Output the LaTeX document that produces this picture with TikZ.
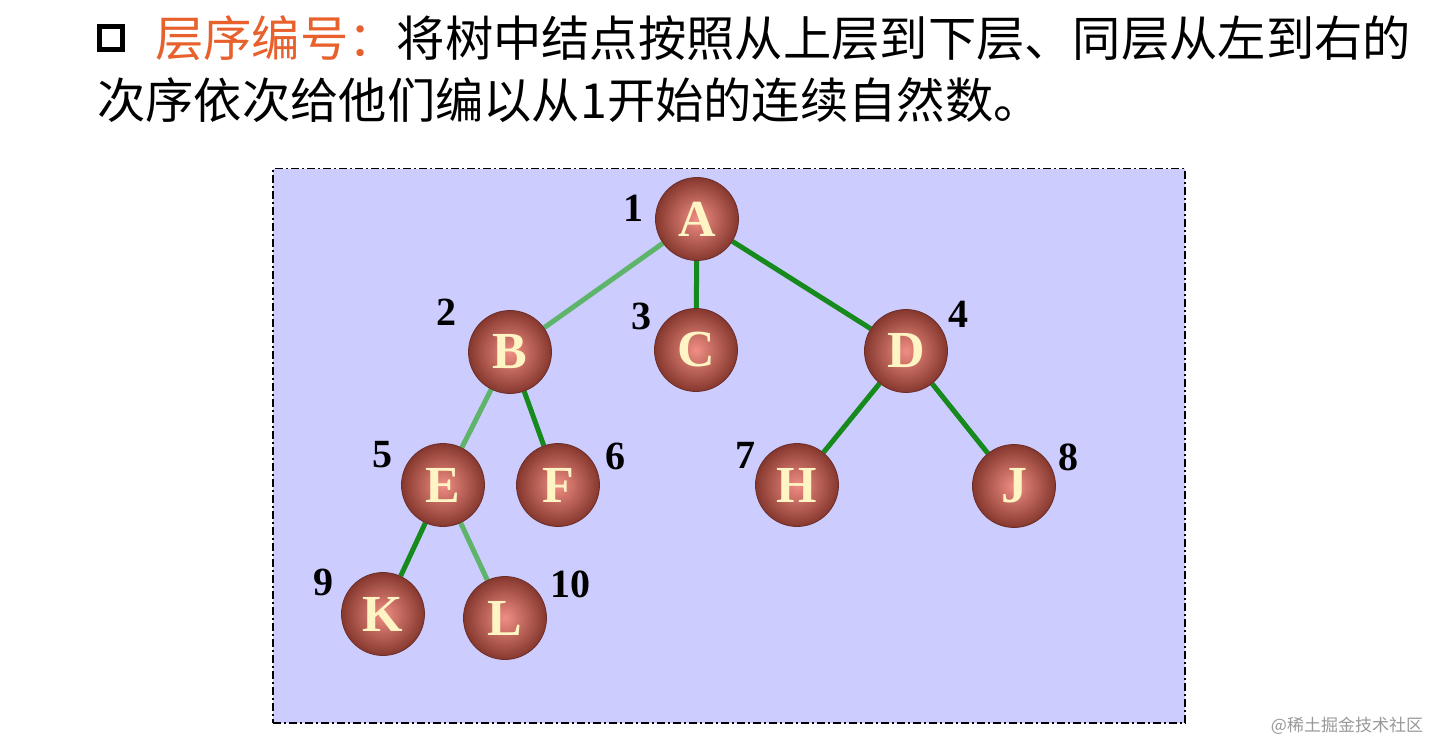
\documentclass[tikz,border=0pt]{standalone}
\usepackage{fontspec}
\setmainfont{Liberation Serif}
\newfontfamily\cjk{Noto Sans CJK SC}
\usetikzlibrary{backgrounds}
\pgfdeclarelayer{edgelayer}
\pgfsetlayers{background,edgelayer,main}
\definecolor{panel}{HTML}{CCCCFF}
\definecolor{titleorange}{HTML}{E8602C}
\definecolor{lightedge}{HTML}{5DB46A}
\definecolor{darkedge}{HTML}{178A1E}
\definecolor{ballin}{HTML}{F08E84}
\definecolor{ballout}{HTML}{86382E}
\definecolor{lettercol}{HTML}{FFF4C4}
\tikzset{
  treenode/.style={circle, minimum size=83pt, inner sep=0pt, draw=ballout!80!black, line width=0.8pt,
    shading=radial, inner color=ballin, outer color=ballout,
    font=\fontsize{52}{52}\selectfont\bfseries, text=lettercol},
  numlabel/.style={font=\fontsize{40}{40}\selectfont\bfseries, text=black, inner sep=0pt},
  lightline/.style={draw=lightedge, line width=5pt},
  darkline/.style={draw=darkedge, line width=5pt},
  cjktext/.style={font=\cjk\fontsize{48.3}{48.3}\selectfont, inner sep=0pt, anchor=west}
}
\begin{document}
\begin{tikzpicture}[x=1pt,y=-1pt]
\useasboundingbox (0,0) rectangle (1433,743);
\begin{pgfonlayer}{background}
\fill[white] (0,0) rectangle (1433,743);
\node[draw=black, fill=panel, line width=1.5pt, dash pattern=on 8pt off 3pt on 2pt off 3pt,
  minimum width=912pt, minimum height=554pt, inner sep=0pt, anchor=north west] (panel) at (272,168) {};
\end{pgfonlayer}
% title
\node[draw=black, line width=5pt, minimum size=23pt, inner sep=0pt] (bullet) at (111,38.5) {};
\node[cjktext] (line1) at (155,38) {\textcolor{titleorange}{层序编号：}将树中结点按照从上层到下层、同层从左到右的};
\node[cjktext] (line2) at (97,100) {次序依次给他们编以从1开始的连续自然数。};
% nodes
\node[treenode] (A) at (697,219) {A};
\node[treenode] (B) at (510,352) {B};
\node[treenode] (C) at (696,350) {C};
\node[treenode] (D) at (906,351) {D};
\node[treenode] (E) at (443,485) {E};
\node[treenode] (F) at (558,485) {F};
\node[treenode] (H) at (797,485) {H};
\node[treenode] (J) at (1014,486) {J};
\node[treenode] (K) at (383,614) {K};
\node[treenode] (L) at (505,618) {L};
% edges
\begin{pgfonlayer}{edgelayer}
\draw[lightline] (A) -- (B);
\draw[darkline] (A) -- (C);
\draw[darkline] (A) -- (D);
\draw[lightline] (B) -- (E);
\draw[darkline] (B) -- (F);
\draw[darkline] (D) -- (H);
\draw[darkline] (D) -- (J);
\draw[darkline] (E) -- (K);
\draw[lightline] (E) -- (L);
\end{pgfonlayer}
% numbers
\node[numlabel] (n1) at (633,208) {1};
\node[numlabel] (n2) at (446,312) {2};
\node[numlabel] (n3) at (641,316) {3};
\node[numlabel] (n4) at (958,314) {4};
\node[numlabel] (n5) at (382,455) {5};
\node[numlabel] (n6) at (615,456) {6};
\node[numlabel] (n7) at (745,455) {7};
\node[numlabel] (n8) at (1068,457) {8};
\node[numlabel] (n9) at (323,582) {9};
\node[numlabel] (n10) at (570,584) {10};
% watermark
\node[font=\cjk\fontsize{17}{17}\selectfont, text=black!40, inner sep=0pt] (wm) at (1347,726) {@稀土掘金技术社区};
\end{tikzpicture}
\end{document}
